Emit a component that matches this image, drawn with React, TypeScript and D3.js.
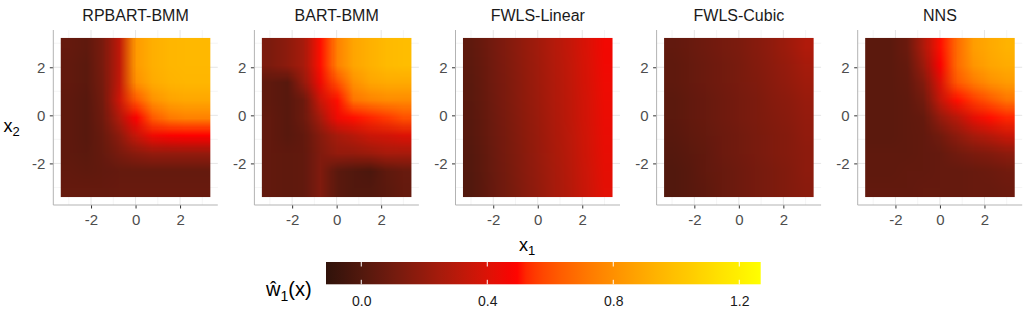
import React, { useEffect, useRef } from 'react';
import * as d3 from 'd3';

// facet titles and axis ticks
const panelTitles = ['RPBART-BMM', 'BART-BMM', 'FWLS-Linear', 'FWLS-Cubic', 'NNS'];
const majorTicks = [-2, 0, 2];
const minorTicks = [-3, -1, 1, 3];
const legendTicks = [0, 0.4, 0.8, 1.2];

// extent of the raster (x1 horizontal, x2 vertical) and of the fill scale
const x1Range = [-3.36, 3.36];
const x2Range = [-3.4, 3.22];
const fillDomain = [-0.112, 1.268];

// estimated w1(x) on a 9x9 grid, rows from top (high x2) to bottom, cols low x1 -> high x1
const rpbartBmm = [
  [0.06, 0.04, 0.12, 0.32, 0.84, 0.92, 0.95, 0.96, 0.96],
  [0.05, 0.03, 0.12, 0.32, 0.84, 0.92, 0.95, 0.96, 0.96],
  [0.05, 0.03, 0.11, 0.33, 0.8, 0.9, 0.94, 0.95, 0.95],
  [0.04, 0.02, 0.1, 0.36, 0.62, 0.8, 0.87, 0.89, 0.89],
  [0.04, 0.02, 0.09, 0.28, 0.48, 0.62, 0.72, 0.75, 0.75],
  [0.04, 0.02, 0.07, 0.18, 0.34, 0.45, 0.48, 0.49, 0.49],
  [0.04, 0.03, 0.06, 0.12, 0.17, 0.2, 0.2, 0.2, 0.2],
  [0.05, 0.04, 0.05, 0.06, 0.06, 0.06, 0.06, 0.06, 0.06],
  [0.06, 0.06, 0.06, 0.07, 0.07, 0.07, 0.07, 0.07, 0.07],
];

const bartBmm = [
  [0.13, 0.18, 0.25, 0.5, 0.75, 0.88, 0.93, 0.97, 0.98],
  [0.13, 0.18, 0.25, 0.5, 0.75, 0.88, 0.93, 0.97, 0.98],
  [0.04, 0.02, 0.2, 0.45, 0.6, 0.8, 0.88, 0.9, 0.9],
  [0.04, 0.02, 0.08, 0.35, 0.5, 0.7, 0.75, 0.78, 0.78],
  [0.05, 0.02, 0.08, 0.25, 0.45, 0.5, 0.52, 0.55, 0.6],
  [0.05, 0.02, 0.05, 0.16, 0.25, 0.3, 0.35, 0.37, 0.4],
  [0.05, 0.04, 0.05, 0.14, 0.2, 0.2, 0.22, 0.25, 0.25],
  [0.05, 0.04, 0.05, 0.14, 0.03, 0.0, -0.02, 0.04, 0.07],
  [0.05, 0.04, 0.05, 0.14, 0.03, 0.0, 0.0, 0.03, 0.06],
];

const fwlsLinear = [
  [0.04, 0.09, 0.14, 0.19, 0.24, 0.29, 0.34, 0.4, 0.46],
  [0.035, 0.085, 0.135, 0.185, 0.235, 0.285, 0.335, 0.395, 0.455],
  [0.03, 0.08, 0.13, 0.18, 0.23, 0.28, 0.33, 0.39, 0.45],
  [0.025, 0.075, 0.125, 0.175, 0.225, 0.275, 0.325, 0.385, 0.445],
  [0.02, 0.07, 0.12, 0.17, 0.22, 0.27, 0.32, 0.38, 0.44],
  [0.015, 0.065, 0.115, 0.165, 0.215, 0.265, 0.315, 0.375, 0.435],
  [0.01, 0.06, 0.11, 0.16, 0.21, 0.26, 0.31, 0.37, 0.43],
  [0.005, 0.055, 0.105, 0.155, 0.205, 0.255, 0.305, 0.365, 0.425],
  [0.0, 0.05, 0.1, 0.15, 0.2, 0.25, 0.3, 0.36, 0.42],
];

const fwlsCubic = [
  [0.05, 0.07, 0.09, 0.11, 0.13, 0.16, 0.19, 0.23, 0.28],
  [0.04, 0.06, 0.08, 0.1, 0.12, 0.15, 0.18, 0.21, 0.25],
  [0.04, 0.06, 0.08, 0.1, 0.12, 0.14, 0.17, 0.2, 0.23],
  [0.03, 0.05, 0.07, 0.09, 0.11, 0.13, 0.16, 0.18, 0.21],
  [0.03, 0.05, 0.07, 0.09, 0.11, 0.13, 0.15, 0.17, 0.2],
  [0.02, 0.04, 0.06, 0.08, 0.1, 0.12, 0.14, 0.16, 0.19],
  [0.01, 0.03, 0.05, 0.08, 0.1, 0.12, 0.14, 0.16, 0.18],
  [0.0, 0.02, 0.05, 0.07, 0.09, 0.11, 0.13, 0.15, 0.18],
  [0.0, 0.02, 0.04, 0.07, 0.09, 0.11, 0.13, 0.15, 0.17],
];

const nns = [
  [0.03, 0.03, 0.08, 0.27, 0.5, 0.68, 0.85, 0.9, 0.94],
  [0.03, 0.03, 0.06, 0.22, 0.48, 0.68, 0.82, 0.88, 0.91],
  [0.03, 0.03, 0.05, 0.15, 0.4, 0.62, 0.72, 0.8, 0.84],
  [0.03, 0.03, 0.04, 0.1, 0.33, 0.5, 0.55, 0.62, 0.7],
  [0.03, 0.03, 0.04, 0.06, 0.2, 0.3, 0.42, 0.5, 0.52],
  [0.03, 0.03, 0.04, 0.05, 0.1, 0.18, 0.25, 0.3, 0.35],
  [0.04, 0.04, 0.04, 0.05, 0.06, 0.1, 0.13, 0.15, 0.18],
  [0.04, 0.04, 0.05, 0.05, 0.06, 0.06, 0.07, 0.08, 0.1],
  [0.05, 0.05, 0.05, 0.06, 0.06, 0.06, 0.07, 0.07, 0.08],
];

const panelGrids = [rpbartBmm, bartBmm, fwlsLinear, fwlsCubic, nns];

const FONT = '"Liberation Sans", Arial, Helvetica, sans-serif';

const App = () => {
  const svgRef = useRef<SVGSVGElement>(null);

  useEffect(() => {
    const svg = d3.select(svgRef.current).html('');

    const color = d3
      .scaleLinear<string>()
      .domain([fillDomain[0], 0.493, 0.88, fillDomain[1]])
      .range(['#30120a', '#ff0000', '#ffa500', '#ffff00'])
      .interpolate(d3.interpolateLab)
      .clamp(true);

    // facet layout
    const firstLeft = 53.3;
    const step = 201.1;
    const panelW = 164.5;
    const top = 30;
    const bottom = 205;
    const expand = (r: number[]) => {
      const d = (r[1] - r[0]) * 0.05;
      return [r[0] - d, r[1] + d];
    };
    const plain = (d: d3.NumberValue) => String(d);

    panelGrids.forEach((grid, i) => {
      const left = firstLeft + i * step;
      const x = d3.scaleLinear().domain(expand(x1Range)).range([left, left + panelW]);
      const y = d3.scaleLinear().domain(expand(x2Range)).range([bottom, top]);
      const g = svg.append('g');

      // grid lines
      minorTicks.forEach(t => {
        g.append('line').attr('x1', x(t)).attr('x2', x(t)).attr('y1', top).attr('y2', bottom)
          .attr('stroke', '#eeeeee').attr('stroke-width', 0.6);
        g.append('line').attr('x1', left).attr('x2', left + panelW).attr('y1', y(t)).attr('y2', y(t))
          .attr('stroke', '#eeeeee').attr('stroke-width', 0.6);
      });
      majorTicks.forEach(t => {
        g.append('line').attr('x1', x(t)).attr('x2', x(t)).attr('y1', top).attr('y2', bottom)
          .attr('stroke', '#e6e6e6').attr('stroke-width', 1);
        g.append('line').attr('x1', left).attr('x2', left + panelW).attr('y1', y(t)).attr('y2', y(t))
          .attr('stroke', '#e6e6e6').attr('stroke-width', 1);
      });

      // raster, smoothed like geom_raster(interpolate = TRUE)
      const canvas = document.createElement('canvas');
      canvas.width = grid[0].length;
      canvas.height = grid.length;
      const ctx = canvas.getContext('2d')!;
      grid.forEach((row, r) =>
        row.forEach((v, c) => {
          ctx.fillStyle = color(v);
          ctx.fillRect(c, r, 1, 1);
        })
      );
      g.append('image')
        .attr('href', canvas.toDataURL())
        .attr('x', x(x1Range[0]))
        .attr('y', y(x2Range[1]))
        .attr('width', x(x1Range[1]) - x(x1Range[0]))
        .attr('height', y(x2Range[0]) - y(x2Range[1]))
        .attr('preserveAspectRatio', 'none')
        .style('image-rendering', 'auto');

      // axes
      const xAxis = g.append('g')
        .attr('transform', `translate(0,${bottom})`)
        .call(d3.axisBottom(x).tickValues(majorTicks).tickSize(3.5).tickPadding(6).tickFormat(plain));
      const yAxis = g.append('g')
        .attr('transform', `translate(${left},0)`)
        .call(d3.axisLeft(y).tickValues(majorTicks).tickSize(3.5).tickPadding(4.5).tickFormat(plain));
      [xAxis, yAxis].forEach(a => {
        a.select('.domain').remove();
        a.selectAll('.tick line').attr('stroke', '#333333');
        a.selectAll('.tick text')
          .attr('fill', '#4d4d4d')
          .style('font-family', FONT)
          .style('font-size', '15px');
      });
      g.append('line').attr('x1', left).attr('x2', left).attr('y1', top).attr('y2', bottom)
        .attr('stroke', '#b3b3b3').attr('stroke-width', 1);
      g.append('line').attr('x1', left).attr('x2', left + panelW).attr('y1', bottom).attr('y2', bottom)
        .attr('stroke', '#b3b3b3').attr('stroke-width', 1);

      // facet title
      g.append('text')
        .attr('x', left + panelW / 2)
        .attr('y', 20.5)
        .attr('text-anchor', 'middle')
        .attr('fill', '#1a1a1a')
        .style('font-family', FONT)
        .style('font-size', '16px')
        .text(panelTitles[i]);
    });

    // axis titles
    const x1Title = svg.append('text')
      .attr('x', 519)
      .attr('y', 251)
      .attr('fill', '#000')
      .style('font-family', FONT)
      .style('font-size', '18px');
    x1Title.append('tspan').text('x');
    x1Title.append('tspan').attr('dy', 4).style('font-size', '13px').text('1');

    const x2Title = svg.append('text')
      .attr('x', 3.5)
      .attr('y', 132)
      .attr('fill', '#000')
      .style('font-family', FONT)
      .style('font-size', '18px');
    x2Title.append('tspan').text('x');
    x2Title.append('tspan').attr('dy', 4).style('font-size', '13px').text('2');

    // colour bar legend
    const lx = d3.scaleLinear().domain(fillDomain).range([326, 760.7]);
    const barTop = 262;
    const barBottom = 284.3;
    const grad = svg.append('defs').append('linearGradient')
      .attr('id', 'fillbar')
      .attr('x1', '0%').attr('x2', '100%').attr('y1', '0%').attr('y2', '0%');
    d3.range(0, 1.0001, 0.02).forEach(t => {
      grad.append('stop')
        .attr('offset', `${t * 100}%`)
        .attr('stop-color', color(fillDomain[0] + t * (fillDomain[1] - fillDomain[0])));
    });
    svg.append('rect')
      .attr('x', lx(fillDomain[0]))
      .attr('y', barTop)
      .attr('width', lx(fillDomain[1]) - lx(fillDomain[0]))
      .attr('height', barBottom - barTop)
      .attr('fill', 'url(#fillbar)');
    legendTicks.forEach(t => {
      svg.append('line').attr('x1', lx(t)).attr('x2', lx(t)).attr('y1', barTop).attr('y2', barTop + 4.5)
        .attr('stroke', '#fff').attr('stroke-width', 1);
      svg.append('line').attr('x1', lx(t)).attr('x2', lx(t)).attr('y1', barBottom - 4.5).attr('y2', barBottom)
        .attr('stroke', '#fff').attr('stroke-width', 1);
    });
    const legendAxis = svg.append('g')
      .attr('transform', `translate(0,${barBottom})`)
      .call(d3.axisBottom(lx).tickValues(legendTicks).tickSize(0).tickPadding(12).tickFormat(d3.format('.1f')));
    legendAxis.select('.domain').remove();
    legendAxis.selectAll('.tick text')
      .attr('fill', '#1a1a1a')
      .style('font-family', FONT)
      .style('font-size', '14px');

    // legend title: w-hat_1(x)
    const lt = svg.append('text')
      .attr('x', 266)
      .attr('y', 296)
      .attr('fill', '#000')
      .style('font-family', FONT)
      .style('font-size', '20px');
    lt.append('tspan').text('\u0175');
    lt.append('tspan').attr('dy', 5).style('font-size', '14px').text('1');
    lt.append('tspan').attr('dy', -5).text('(x)');
  }, []);

  return (
    <svg
      ref={svgRef}
      width={1030}
      height={312}
      style={{ position: 'absolute', left: 0, top: 0, background: '#fff' }}
    />
  );
};

export default App;
